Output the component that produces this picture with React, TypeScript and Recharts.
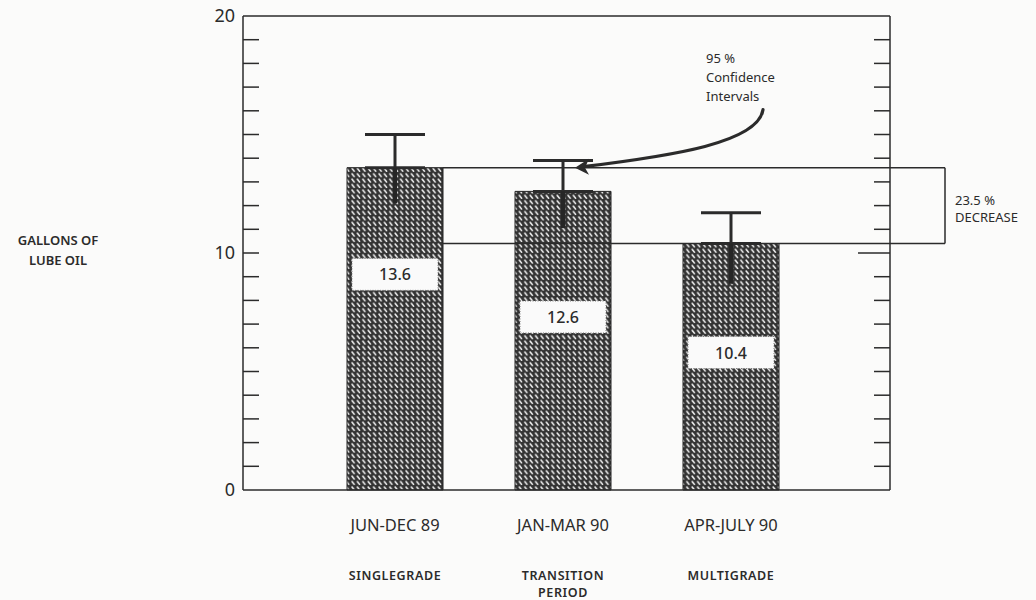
import {
  ComposedChart, Bar, XAxis, YAxis, ErrorBar, Scatter, ReferenceLine, ReferenceDot,
} from 'recharts';

const periods = ['JUN-DEC 89', 'JAN-MAR 90', 'APR-JULY 90'];
const grades = [['SINGLEGRADE'], ['TRANSITION', 'PERIOD'], ['MULTIGRADE']];
const gallons = [13.6, 12.6, 10.4];
// [below, above] from the bar top
const confidence = [[1.5, 1.4], [1.55, 1.3], [1.7, 1.3]];
// where the white value boxes sit inside each bar
const labelAt = [9.1, 7.3, 5.8];
const yTicks = [0, 1, 2, 3, 4, 5, 6, 7, 8, 9, 10, 11, 12, 13, 14, 15, 16, 17, 18, 19, 20];
const yLabels = [0, 10, 20];

// the lower half of each whisker has no cap in the original, so it is split in two
const data = periods.map((p, i) => ({
  period: p,
  gallons: gallons[i],
  ciUp: [0, confidence[i][1]],
  ciDown: [confidence[i][0], 0],
  labelAt: labelAt[i],
}));

const INK = '#2b2b2b';
const FONT = '"Noto Sans", "Open Sans", sans-serif';
const BAR = 96;

const LeftTick = (props: any) => {
  const { x, y, payload } = props;
  const v = payload.value;
  return (
    <g>
      {v !== 0 && v !== 20 && <line x1={x} x2={x + 16} y1={y} y2={y} stroke={INK} strokeWidth={1.5} />}
      {yLabels.includes(v) && (
        <text x={x - 8} y={y} dy={6} textAnchor="end" fontSize={18} fill={INK} fontFamily={FONT}>{v}</text>
      )}
    </g>
  );
};

const RightTick = (props: any) => {
  const { x, y, payload } = props;
  const v = payload.value;
  if (v === 0 || v === 20) return <g />;
  const len = v === 10 ? 32 : 16;
  return <line x1={x} x2={x - len} y1={y} y2={y} stroke={INK} strokeWidth={1.5} />;
};

const PeriodTick = (props: any) => {
  const { x, y, index } = props;
  return (
    <g fontFamily={FONT} fill={INK}>
      <text x={x} y={y + 41} textAnchor="middle" fontSize={16.5} fill={INK}>{periods[index]}</text>
      {grades[index].map((g, k) => (
        <text key={k} x={x} y={y + 90 + k * 17} textAnchor="middle" fontSize={12.5}
          fontWeight={600} letterSpacing={0.6} fill={INK}>{g}</text>
      ))}
    </g>
  );
};

const ValueBox = (props: any) => {
  const { cx, cy, payload } = props;
  return (
    <g>
      <rect x={cx - 43} y={cy - 16} width={86} height={32} fill="#fafafa" stroke="#777"
        strokeWidth={1} strokeDasharray="1 1.5" />
      <text x={cx} y={cy} dy={6} textAnchor="middle" fontSize={16} fontFamily={FONT}
        fill={INK} fontWeight={500}>{payload.gallons}</text>
    </g>
  );
};

// horizontal bracket line, from the right edge of the first bar out past the frame
const BracketLine = (props: any) => {
  const { x1, y1, x2 } = props;
  return <line x1={x1 + BAR / 2} x2={x2 + 214} y1={y1} y2={y1} stroke={INK} strokeWidth={1.5} />;
};

const BracketSide = (props: any) => {
  const { x1, y1, y2 } = props;
  const bx = x1 + 214;
  return (
    <g fontFamily={FONT} fill={INK}>
      <line x1={bx} x2={bx} y1={y1} y2={y2} stroke={INK} strokeWidth={1.5} />
      <text x={bx + 10} y={Math.min(y1, y2) + 37} fontSize={13} fill={INK}>23.5 %</text>
      <text x={bx + 10} y={Math.min(y1, y2) + 54} fontSize={13} fill={INK}>DECREASE</text>
    </g>
  );
};

const CiNote = (props: any) => {
  const { cx, cy } = props;
  const tx = cx + 12;
  const ty = cy;
  return (
    <g fontFamily={FONT} fill={INK}>
      <path d={`M ${cx + 200} ${cy - 58} C ${cx + 195} ${cy - 25}, ${cx + 110} ${cy - 12}, ${tx + 8} ${ty - 1}`}
        fill="none" stroke={INK} strokeWidth={3.2} strokeLinecap="round" />
      <path d={`M ${tx} ${ty} L ${tx + 14} ${ty - 9} L ${tx + 10} ${ty} L ${tx + 14} ${ty + 7} Z`} fill={INK} />
      <text x={cx + 143} y={cy - 105} fontSize={13} fill={INK}>95 %</text>
      <text x={cx + 143} y={cy - 86} fontSize={13} fill={INK}>Confidence</text>
      <text x={cx + 143} y={cy - 67} fontSize={13} fill={INK}>Intervals</text>
    </g>
  );
};

const AxisTitle = (props: any) => {
  const { viewBox } = props;
  const cx = viewBox.x - 184;
  const cy = viewBox.y + viewBox.height / 2;
  return (
    <g fontFamily={FONT} fill={INK}>
      <text x={cx} y={cy - 8} textAnchor="middle" fontSize={13} fontWeight={600} fill={INK}>GALLONS OF</text>
      <text x={cx} y={cy + 12} textAnchor="middle" fontSize={13} fontWeight={600} fill={INK}>LUBE OIL</text>
    </g>
  );
};

export default function App() {
  return (
    <div style={{ position: 'absolute', left: 0, top: 0, width: 1036, height: 600, background: '#fbfbfa' }}>
      <ComposedChart width={1036} height={600} data={data}
        margin={{ top: 15, right: 145, left: 242, bottom: 0 }}>
        <defs>
          <pattern id="hatch" width="5.4" height="5.4" patternUnits="userSpaceOnUse">
            <rect width="5.4" height="5.4" fill="#333" />
            <line x1="1" y1="1" x2="3.2" y2="3.8" stroke="#f2f2f2" strokeWidth="1.5" strokeLinecap="round" />
          </pattern>
        </defs>
        <XAxis dataKey="period" padding={{ left: 68, right: 75 }} tick={<PeriodTick />}
          tickLine={false} tickSize={0} tickMargin={0} height={110}
          axisLine={{ stroke: INK, strokeWidth: 1.5 }} interval={0} />
        <XAxis xAxisId="top" dataKey="period" orientation="top" tick={false} tickLine={false}
          height={1} axisLine={{ stroke: INK, strokeWidth: 1.5 }} />
        <YAxis domain={[0, 20]} ticks={yTicks} interval={0} width={1} tick={<LeftTick />}
          tickLine={false} tickSize={0} tickMargin={0}
          axisLine={{ stroke: INK, strokeWidth: 1.5 }} label={<AxisTitle />} />
        <YAxis yAxisId="right" orientation="right" domain={[0, 20]} ticks={yTicks} interval={0}
          width={1} tick={<RightTick />} tickLine={false} tickSize={0} tickMargin={0}
          axisLine={{ stroke: INK, strokeWidth: 1.5 }} />
        <ReferenceLine segment={[{ x: periods[0], y: gallons[2] }, { x: periods[2], y: gallons[2] }]}
          shape={<BracketLine />} ifOverflow="visible" />
        <Bar dataKey="gallons" barSize={BAR} fill="url(#hatch)" stroke="#222" strokeWidth={1}
          isAnimationActive={false}>
          <ErrorBar dataKey="ciUp" width={30} strokeWidth={3} stroke={INK} direction="y" />
          <ErrorBar dataKey="ciDown" width={0} strokeWidth={4} stroke="#262626" direction="y" />
        </Bar>
        <ReferenceLine segment={[{ x: periods[0], y: gallons[0] }, { x: periods[2], y: gallons[0] }]}
          shape={<BracketLine />} ifOverflow="visible" />
        <ReferenceLine segment={[{ x: periods[2], y: gallons[2] }, { x: periods[2], y: gallons[0] }]}
          shape={<BracketSide />} ifOverflow="visible" />
        <Scatter dataKey="labelAt" yAxisId="right" shape={<ValueBox />} isAnimationActive={false} />
        <ReferenceDot x={periods[1]} y={gallons[0]} shape={<CiNote />} ifOverflow="visible" />
      </ComposedChart>
    </div>
  );
}
